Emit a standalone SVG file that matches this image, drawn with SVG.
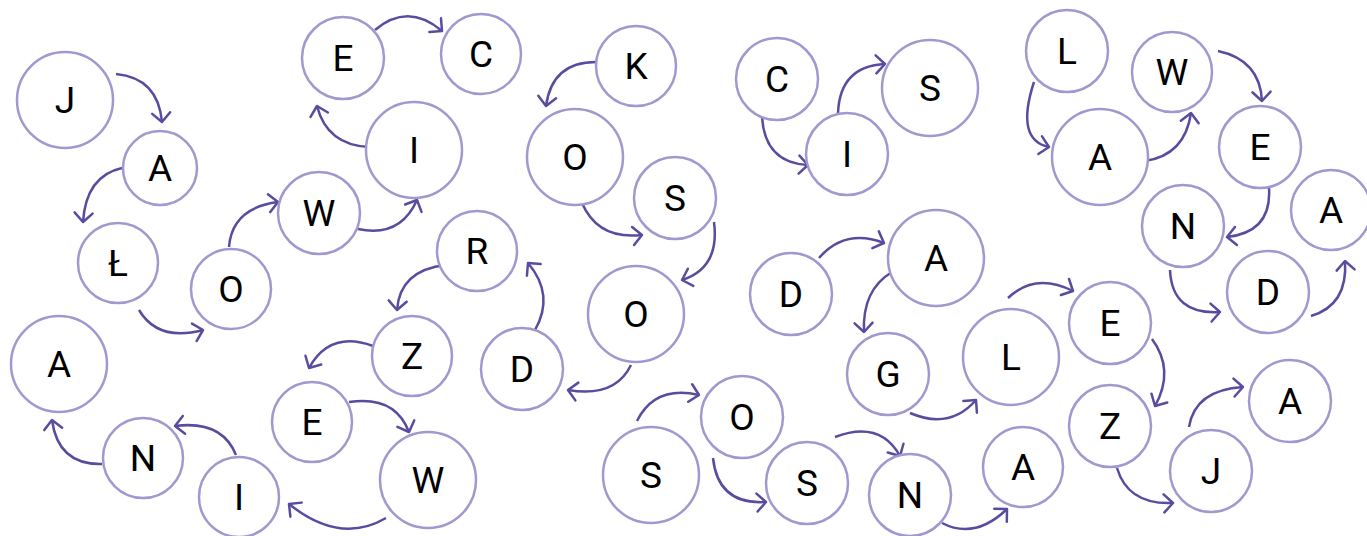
<svg xmlns="http://www.w3.org/2000/svg" width="1367" height="536" viewBox="0 0 1367 536">
<style>
.n circle{fill:#fff;stroke:#a298cf;stroke-width:2.5}
.n text{font-family:Roboto,"Liberation Sans",sans-serif;font-size:37px;fill:#000;text-anchor:middle}
#edges path{fill:none;stroke:#5a4b9f;stroke-width:2.5;marker-end:url(#ah)}
</style>
<defs>
<marker id="ah" markerUnits="userSpaceOnUse" markerWidth="30" markerHeight="30" viewBox="-15 -15 30 30" refX="0" refY="0" orient="auto">
<path d="M-9,-9 L0,0 L-9,9" fill="none" stroke="#5a4b9f" stroke-width="2.5" stroke-linecap="round" stroke-linejoin="round"/>
</marker>
</defs>
<rect width="1367" height="536" fill="#fff"/>
<g id="edges">
<path d="M116,74 Q158,78 162,122"/>
<path d="M122,168 Q86,176 83,222"/>
<path d="M139,310 Q158,342 203,330"/>
<path d="M229,247 Q232,208 278,202"/>
<path d="M358,229 Q400,238 417,200"/>
<path d="M369,147 Q327,145 317,106"/>
<path d="M375,30 Q408,2 442,31"/>
<path d="M596,62 Q552,62 546,106"/>
<path d="M582,203 Q598,240 642,235"/>
<path d="M714,222 Q720,268 682,280"/>
<path d="M631,365 Q615,398 568,390"/>
<path d="M535,330 Q555,295 528,263"/>
<path d="M446,265 Q400,270 397,310"/>
<path d="M373,346 Q330,330 309,368"/>
<path d="M349,402 Q395,395 409,432"/>
<path d="M386,518 Q340,545 289,504"/>
<path d="M236,455 Q222,420 175,426"/>
<path d="M102,464 Q58,465 52,420"/>
<path d="M762,117 Q765,163 808,165"/>
<path d="M838,113 Q840,66 885,64"/>
<path d="M819,258 Q845,228 884,243"/>
<path d="M892,272 Q862,290 864,332"/>
<path d="M910,413 Q950,430 976,400"/>
<path d="M1008,298 Q1035,272 1073,291"/>
<path d="M637,421 Q655,385 699,395"/>
<path d="M713,458 Q718,505 766,502"/>
<path d="M835,437 Q880,420 900,456"/>
<path d="M942,523 Q975,540 1007,509"/>
<path d="M1034,82 Q1015,140 1049,147"/>
<path d="M1145,161 Q1185,155 1191,113"/>
<path d="M1218,51 Q1260,60 1262,101"/>
<path d="M1269,188 Q1272,232 1227,237"/>
<path d="M1170,270 Q1172,315 1220,312"/>
<path d="M1311,316 Q1348,305 1345,261"/>
<path d="M1152,339 Q1175,370 1155,406"/>
<path d="M1117,468 Q1128,505 1173,503"/>
<path d="M1189,427 Q1195,390 1243,387"/>
</g>
<g id="n1" class="n"><circle cx="65" cy="100" r="48"/><text x="65" y="113">J</text></g>
<g id="n2" class="n"><circle cx="160" cy="168" r="37"/><text x="160" y="181">A</text></g>
<g id="n3" class="n"><circle cx="118" cy="263" r="40"/><text x="118" y="276">Ł</text></g>
<g id="n4" class="n"><circle cx="231" cy="289" r="40"/><text x="231" y="302">O</text></g>
<g id="n5" class="n"><circle cx="59" cy="364" r="48"/><text x="59" y="377">A</text></g>
<g id="n6" class="n"><circle cx="143" cy="458" r="40"/><text x="143" y="471">N</text></g>
<g id="n7" class="n"><circle cx="239" cy="497" r="40"/><text x="239" y="510">I</text></g>
<g id="n8" class="n"><circle cx="319" cy="213" r="41"/><text x="319" y="226">W</text></g>
<g id="n9" class="n"><circle cx="414" cy="150" r="48"/><text x="414" y="163">I</text></g>
<g id="n10" class="n"><circle cx="343" cy="58" r="41"/><text x="343" y="71">E</text></g>
<g id="n11" class="n"><circle cx="481" cy="54" r="40"/><text x="481" y="67">C</text></g>
<g id="n12" class="n"><circle cx="477" cy="251" r="40"/><text x="477" y="264">R</text></g>
<g id="n13" class="n"><circle cx="412" cy="356" r="40"/><text x="412" y="369">Z</text></g>
<g id="n14" class="n"><circle cx="312" cy="422" r="40"/><text x="312" y="435">E</text></g>
<g id="n15" class="n"><circle cx="428" cy="480" r="48"/><text x="428" y="493">W</text></g>
<g id="n16" class="n"><circle cx="522" cy="369" r="41"/><text x="522" y="382">D</text></g>
<g id="n17" class="n"><circle cx="636" cy="66" r="40"/><text x="636" y="79">K</text></g>
<g id="n18" class="n"><circle cx="575" cy="157" r="48"/><text x="575" y="170">O</text></g>
<g id="n19" class="n"><circle cx="675" cy="198" r="41"/><text x="675" y="211">S</text></g>
<g id="n20" class="n"><circle cx="636" cy="314" r="48"/><text x="636" y="327">O</text></g>
<g id="n21" class="n"><circle cx="651" cy="475" r="48"/><text x="651" y="488">S</text></g>
<g id="n22" class="n"><circle cx="742" cy="417" r="41"/><text x="742" y="430">O</text></g>
<g id="n23" class="n"><circle cx="807" cy="483" r="41"/><text x="807" y="496">S</text></g>
<g id="n24" class="n"><circle cx="910" cy="495" r="41"/><text x="910" y="508">N</text></g>
<g id="n25" class="n"><circle cx="1023" cy="467" r="40"/><text x="1023" y="480">A</text></g>
<g id="n26" class="n"><circle cx="888" cy="374" r="41"/><text x="888" y="387">G</text></g>
<g id="n27" class="n"><circle cx="1011" cy="357" r="48"/><text x="1011" y="370">L</text></g>
<g id="n28" class="n"><circle cx="791" cy="294" r="41"/><text x="791" y="307">D</text></g>
<g id="n29" class="n"><circle cx="936" cy="258" r="48"/><text x="936" y="271">A</text></g>
<g id="n30" class="n"><circle cx="777" cy="79" r="41"/><text x="777" y="92">C</text></g>
<g id="n31" class="n"><circle cx="847" cy="154" r="41"/><text x="847" y="167">I</text></g>
<g id="n32" class="n"><circle cx="930" cy="88" r="48"/><text x="930" y="101">S</text></g>
<g id="n33" class="n"><circle cx="1067" cy="51" r="41"/><text x="1067" y="64">L</text></g>
<g id="n34" class="n"><circle cx="1172" cy="72" r="40"/><text x="1172" y="85">W</text></g>
<g id="n35" class="n"><circle cx="1100" cy="157" r="48"/><text x="1100" y="170">A</text></g>
<g id="n36" class="n"><circle cx="1260" cy="147" r="41"/><text x="1260" y="160">E</text></g>
<g id="n37" class="n"><circle cx="1183" cy="226" r="41"/><text x="1183" y="239">N</text></g>
<g id="n38" class="n"><circle cx="1331" cy="210" r="40"/><text x="1331" y="223">A</text></g>
<g id="n39" class="n"><circle cx="1268" cy="292" r="41"/><text x="1268" y="305">D</text></g>
<g id="n40" class="n"><circle cx="1110" cy="323" r="41"/><text x="1110" y="336">E</text></g>
<g id="n41" class="n"><circle cx="1110" cy="426" r="41"/><text x="1110" y="439">Z</text></g>
<g id="n42" class="n"><circle cx="1211" cy="471" r="41"/><text x="1211" y="484">J</text></g>
<g id="n43" class="n"><circle cx="1290" cy="401" r="41"/><text x="1290" y="414">A</text></g>
</svg>
